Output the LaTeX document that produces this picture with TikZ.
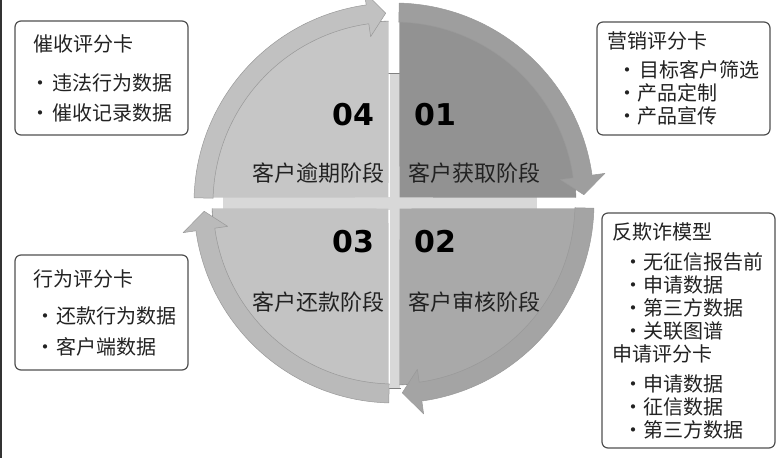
\documentclass[tikz,border=0pt]{standalone}
\usepackage{fontspec}
\setmainfont{Noto Sans CJK SC}
\newfontfamily\numfont{DejaVu Sans}

\definecolor{txt}{HTML}{222222}
\definecolor{cardline}{HTML}{505050}
\definecolor{crossfill}{HTML}{D8D8D8}
\definecolor{sec1}{HTML}{929292}
\definecolor{band1}{HTML}{9E9E9E}
\definecolor{sec2}{HTML}{A9A9A9}
\definecolor{band2}{HTML}{A4A4A4}
\definecolor{sec3}{HTML}{C3C3C3}
\definecolor{band3}{HTML}{BABABA}
\definecolor{sec4}{HTML}{C6C6C6}
\definecolor{band4}{HTML}{C1C1C1}

\tikzset{
  card/.style={draw=cardline, line width=1.2pt, rounded corners=6pt, fill=white,
    align=left, text=txt, inner xsep=10pt, text width=153pt},
  stage/.style={font=\fontsize{22}{26}\selectfont, text=txt},
  stagenum/.style={font=\numfont\bfseries\fontsize{30}{34}\selectfont, text=black},
}
% one bulleted line, kept unbroken: indent, gap, text
\newcommand\bul[3]{\mbox{\hspace*{#1}\textbullet\kern#2 #3}}

\begin{document}
\begin{tikzpicture}[x=1pt, y=1pt, line join=round]
  \useasboundingbox (0,0) rectangle (784,470);

  % scan edge on the left
  \draw[line width=2.5pt, color=black!80] (1.2,470) -- (1.2,12);

  % light cross behind the quarters
  \fill[crossfill] (223,260) rectangle (537,273);
  \fill[crossfill] (389.5,82) rectangle (399.5,397);
  \draw[black!50, line width=0.6pt] (388,397) -- (401,397);
  \draw[black!50, line width=0.6pt] (388,82) -- (401,82);

  \begin{scope}[shift={(394,267)}]
    % quarters
    \foreach \a/\n in {90/1, 0/2, -90/3, 180/4} {
      \fill[sec\n] (\a-45:7.8) -- (\a-88.3:182)
        arc[start angle=\a-88.3, end angle=\a-1.7, radius=182] -- cycle;
      \draw[black!45, line width=0.6pt] (\a-88.3:182)
        arc[start angle=\a-88.3, end angle=\a-1.7, radius=182];
    }
    % ring arrows, clockwise
    \foreach \a/\n in {90/1, 0/2, -90/3, 180/4} {
      \pgfmathsetmacro\s{\a-1.5}
      \pgfmathsetmacro\b{\a-82}
      \pgfmathsetmacro\t{\a-87.5}
      \filldraw[fill=band\n, draw=black!40, line width=0.5pt]
        (\s:200) arc[start angle=\s, end angle=\b, radius=200]
        -- (\b:213) -- (\t:190) -- (\b:168) -- (\b:181)
        arc[start angle=\b, end angle=\s, radius=181] -- cycle;
    }
  \end{scope}

  % stage numbers and names
  \node[stagenum] (num4) at (353,355) {04};
  \node[stagenum] (num1) at (435,355) {01};
  \node[stagenum] (num3) at (353,228) {03};
  \node[stagenum] (num2) at (435,228) {02};

  \node[stage] (overdue) at (318,297) {客户逾期阶段};
  \node[stage] (acquire) at (474,297) {客户获取阶段};
  \node[stage] (repay)   at (318,168) {客户还款阶段};
  \node[stage] (review)  at (474,168) {客户审核阶段};

  % score cards
  \node[card, inner xsep=18pt, text width=137pt, minimum height=114pt,
    font=\fontsize{20}{30}\selectfont] (collect) at (101.5,392)
    {催收评分卡\\[9pt]\bul{-3pt}{2pt}{违法行为数据}\\\bul{-3pt}{2pt}{催收记录数据}};

  \node[card, minimum height=113pt, font=\fontsize{20}{23}\selectfont] (market) at (683.5,391.5)
    {营销评分卡\\[6pt]\bul{10pt}{3pt}{目标客户筛选}\\\bul{10pt}{0pt}{产品定制}\\\bul{10pt}{0pt}{产品宣传}};

  \node[card, inner xsep=18pt, text width=137pt, minimum height=115pt,
    font=\fontsize{20}{31}\selectfont] (behave) at (101.5,157.5)
    {行为评分卡\\[6pt]\bul{2pt}{2pt}{还款行为数据}\\\bul{2pt}{2pt}{客户端数据}};

  \node[card, minimum height=235pt, font=\fontsize{20}{23}\selectfont] (fraud) at (688.5,139.5)
    {反欺诈模型\\[7pt]\bul{11pt}{0pt}{无征信报告前}\\\bul{11pt}{0pt}{申请数据}\\\bul{11pt}{0pt}{第三方数据}\\
     \bul{11pt}{0pt}{关联图谱}\\申请评分卡\\[7pt]\bul{11pt}{0pt}{申请数据}\\\bul{11pt}{0pt}{征信数据}\\
     \bul{11pt}{0pt}{第三方数据}};

\end{tikzpicture}
\end{document}
